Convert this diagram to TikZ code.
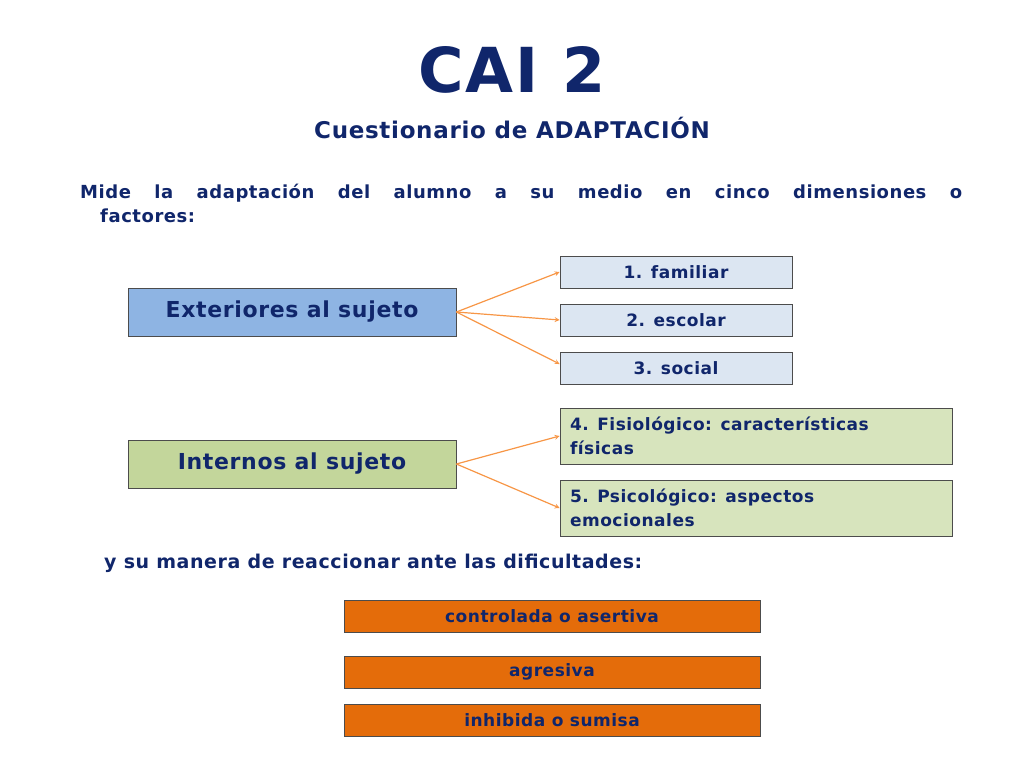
\documentclass[tikz,border=0pt]{standalone}
\usepackage{fontspec}
\setmainfont{DejaVu Sans}[LetterSpace=3]
\definecolor{navy}{HTML}{10266B}
\definecolor{bluebox}{HTML}{8EB4E3}
\definecolor{greenbox}{HTML}{C3D69B}
\definecolor{lblue}{HTML}{DCE6F2}
\definecolor{lgreen}{HTML}{D7E4BD}
\definecolor{orng}{HTML}{E46C0A}
\definecolor{arr}{HTML}{F79646}
\begin{document}
\begin{tikzpicture}[x=1pt,y=-1pt,
 bx/.style={draw=black!70,line width=0.8pt,inner sep=0pt,font=\bfseries,text=navy},
 ar/.style={draw=arr,line width=1.2pt,-stealth}]
\useasboundingbox (0,0) rectangle (1024,768);
\node[font=\fontsize{62}{62}\selectfont\bfseries,text=navy] (t) at (512,70) {CAI 2};
\node[font=\fontsize{23}{23}\selectfont\bfseries,text=navy] (s) at (512,128) {Cuestionario de ADAPTACIÓN};
\node[anchor=north west,inner sep=0pt,text width=882pt,align=justify,font=\fontsize{18}{24}\selectfont\bfseries,text=navy] (p) at (80,184) {Mide la adaptación del alumno a su medio en cinco dimensiones o\linebreak\hspace*{20pt}factores:};
\node[bx,fill=bluebox,minimum width=328pt,minimum height=48pt,font=\fontsize{22}{22}\selectfont\bfseries] (ext) at (292,312) {Exteriores al sujeto};
\node[bx,fill=greenbox,minimum width=328pt,minimum height=48pt,font=\fontsize{22}{22}\selectfont\bfseries] (int) at (292,464) {Internos al sujeto};
\foreach \n/\y/\t in {f/272/1. familiar,e/320/2. escolar,so/368/3. social}
 \node[bx,fill=lblue,minimum width=232pt,minimum height=32pt,font=\fontsize{17}{17}\selectfont\bfseries] (\n) at (676,\y) {\t};
\node[bx,fill=lgreen,minimum width=392pt,minimum height=56pt,font=\fontsize{17}{24}\selectfont\bfseries,text width=372pt,inner xsep=10pt,align=left] (fi) at (756,436) {4. Fisiológico: características\\físicas};
\node[bx,fill=lgreen,minimum width=392pt,minimum height=56pt,font=\fontsize{17}{24}\selectfont\bfseries,text width=372pt,inner xsep=10pt,align=left] (ps) at (756,508) {5. Psicológico: aspectos\\emocionales};
\draw[ar] (ext.east) -- (f.west|-0,272);
\draw[ar] (ext.east) -- (e.west);
\draw[ar] (ext.east) -- (so.west|-0,364);
\draw[ar] (int.east) -- (fi.west);
\draw[ar] (int.east) -- (ps.west);
\node[anchor=west,inner sep=0pt,font=\fontsize{19}{19}\selectfont\bfseries,text=navy] (y) at (104,563) {y su manera de reaccionar ante las dificultades:};
\foreach \n/\y/\t in {c/616/controlada o asertiva,a/672/agresiva,i/720/inhibida o sumisa}
 \node[bx,fill=orng,minimum width=416pt,minimum height=32pt,font=\fontsize{17}{17}\selectfont\bfseries] (\n) at (552,\y) {\t};
\end{tikzpicture}
\end{document}
